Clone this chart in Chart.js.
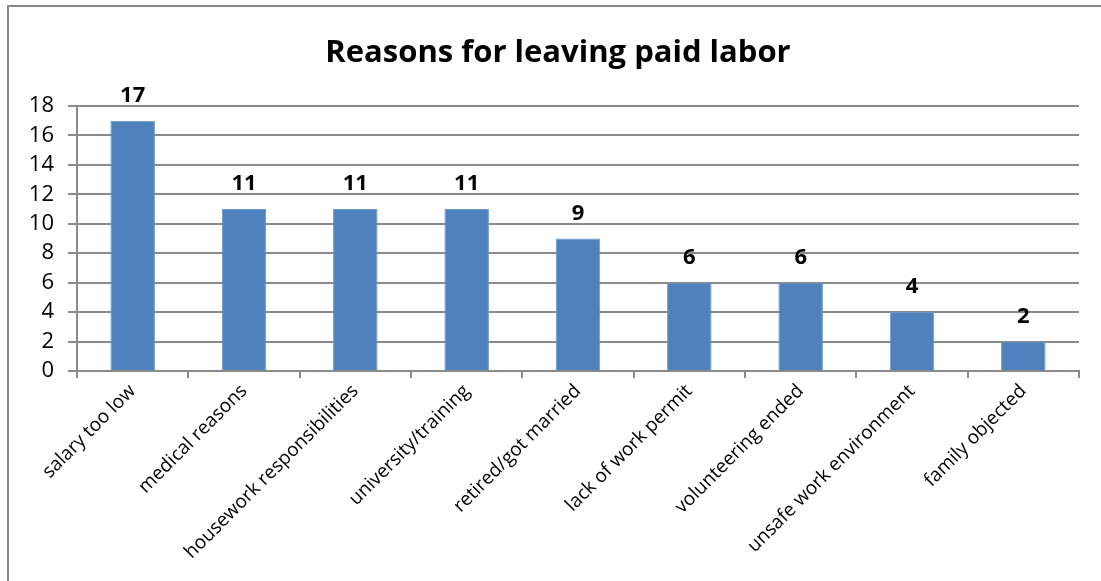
<!DOCTYPE html>
<html>
<head>
<meta charset="utf-8">
<script src="https://cdn.jsdelivr.net/npm/chart.js@4/dist/chart.umd.min.js"></script>
<style>
  html, body { margin: 0; padding: 0; background: #fff; overflow: hidden; }
  #frame { position: absolute; left: 7px; top: 5px; width: 1200px; height: 700px;
           border-left: 2px solid #8a8a8a; border-top: 2px solid #8a8a8a; }
  #wrap { position: absolute; left: 0; top: 0; width: 1101px; height: 581px; }
</style>
</head>
<body>
<div id="frame"></div>
<div id="wrap"><canvas id="c" width="1101" height="581"></canvas></div>
<script>
const TITLE = "Reasons for leaving paid labor";
const categories = [
  "salary too low",
  "medical reasons",
  "housework responsibilities",
  "university/training",
  "retired/got married",
  "lack of work permit",
  "volunteering ended",
  "unsafe work environment",
  "family objected"
];
const counts = [17, 11, 11, 11, 9, 6, 6, 4, 2];
const yTicks = [0, 2, 4, 6, 8, 10, 12, 14, 16, 18];

const FONT = "'Open Sans', 'Liberation Sans', sans-serif";

const titleText = {
  id: 'titleText',
  afterDraw(chart) {
    const ctx = chart.ctx;
    ctx.save();
    ctx.font = "bold 31px " + FONT;
    ctx.fillStyle = '#000';
    ctx.textAlign = 'center';
    ctx.textBaseline = 'middle';
    ctx.fillText(TITLE, 558, 53);
    ctx.restore();
  }
};

const valueLabels = {
  id: 'valueLabels',
  afterDatasetsDraw(chart) {
    const ctx = chart.ctx;
    const meta = chart.getDatasetMeta(0);
    const ys = chart.scales.y;
    ctx.save();
    ctx.font = "bold 22px " + FONT;
    ctx.fillStyle = '#000';
    ctx.textAlign = 'center';
    ctx.textBaseline = 'alphabetic';
    meta.data.forEach((bar, i) => {
      const v = chart.data.datasets[0].data[i];
      ctx.fillText(String(v), bar.x, ys.getPixelForValue(v) - 19);
    });
    ctx.restore();
  }
};

new Chart(document.getElementById('c'), {
  type: 'bar',
  data: {
    labels: categories,
    datasets: [{
      data: counts,
      backgroundColor: '#4f81bd',
      borderColor: '#6e96c9',
      borderWidth: 1,
      categoryPercentage: 1.0,
      barPercentage: 0.4
    }]
  },
  options: {
    responsive: false,
    animation: false,
    devicePixelRatio: 1,
    layout: { padding: { left: 0, right: 22, top: 106, bottom: 0 } },
    plugins: {
      legend: { display: false },
      tooltip: { enabled: false },
      title: { display: false }
    },
    scales: {
      x: {
        offset: true,
        grid: { display: true, offset: true, drawOnChartArea: false, drawTicks: true,
                tickLength: 7, color: '#8a8a8a', lineWidth: 2 },
        border: { display: true, color: '#8a8a8a', width: 2 },
        ticks: {
          color: '#000', maxRotation: 45, minRotation: 45, autoSkip: false,
          padding: 2,
          font: { family: FONT, size: 19 }
        },
        afterFit(scale) { scale.height = 210; }
      },
      y: {
        min: 0, max: 18,
        afterBuildTicks(scale) { scale.ticks = yTicks.map(v => ({ value: v })); },
        grid: { color: '#8a8a8a', lineWidth: 2, tickLength: 9 },
        border: { display: true, color: '#8a8a8a', width: 2 },
        ticks: { color: '#000', padding: 14, font: { family: FONT, size: 22 } },
        afterFit(scale) { scale.width = 77; }
      }
    }
  },
  plugins: [valueLabels, titleText]
});
</script>
</body>
</html>
